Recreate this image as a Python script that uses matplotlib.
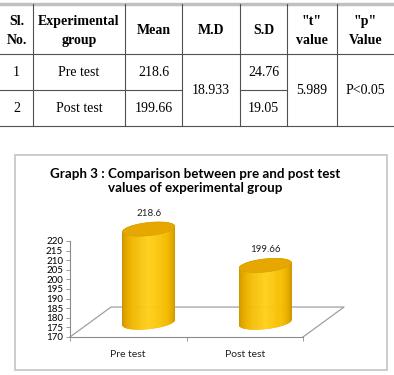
import numpy as np
import matplotlib.pyplot as plt
from matplotlib.patches import Polygon, Rectangle
from matplotlib.colors import LinearSegmentedColormap

# table data
headers = ['Sl.\nNo.', 'Experimental\ngroup', 'Mean', 'M.D', 'S.D', '"t"\nvalue', '"p"\nValue']
sl_no = ['1', '2']
groups = ['Pre test', 'Post test']
means = [218.6, 199.66]
mean_diff = '18.933'
sd = ['24.76', '19.05']
t_value = '5.989'
p_value = 'P<0.05'

# chart data
categories = ['Pre test', 'Post test']
bar_values = [218.6, 199.66]
bar_labels = ['218.6', '199.66']
yticks = list(range(170, 221, 5))

W, H = 394, 375
fig = plt.figure(figsize=(W / 100, H / 100), dpi=100)

# overlay in pixel coords for the table and frame
bg = fig.add_axes([0, 0, 1, 1])
bg.set_xlim(0, W)
bg.set_ylim(H, 0)
bg.axis('off')

serif = 'Liberation Serif'
cols = [0, 33, 125, 182, 240, 287, 337, 394]
row_y = [4, 54, 90, 126]
line_c = '#505050'

bg.plot([0, W], [3.5, 3.5], color='#c0c0c0', lw=2.5)
for y in (54, 126):
    bg.plot([0, W], [y, y], color=line_c, lw=0.8)
# row split only for the non-merged columns
for a, b in [(0, 182), (240, 287)]:
    bg.plot([a, b], [90, 90], color=line_c, lw=0.8)
for x in cols[1:-1]:
    bg.plot([x, x], [4, 126], color=line_c, lw=0.8)

for i, h in enumerate(headers):
    cx = (cols[i] + cols[i + 1]) / 2
    bg.text(cx, 31, h, ha='center', va='center', fontfamily=serif,
            fontweight='bold', fontsize=10, linespacing=1.6)

for r in range(2):
    cy = (row_y[r + 1] + row_y[r + 2]) / 2
    cells = [sl_no[r], groups[r], '%g' % means[r], None, sd[r]]
    for i, c in enumerate(cells):
        if c is None:
            continue
        cx = (cols[i] + cols[i + 1]) / 2
        bg.text(cx, cy, c, ha='center', va='center', fontfamily=serif, fontsize=10)
merged = {3: mean_diff, 5: t_value, 6: p_value}
for i, c in merged.items():
    cx = (cols[i] + cols[i + 1]) / 2
    bg.text(cx, 90, c, ha='center', va='center', fontfamily=serif, fontsize=10)

# chart frame
bg.add_patch(Rectangle((15, 155), 372, 215, fill=False, ec='#c4c4c4', lw=1.2))

font = 'Lato'
bg.text(195, 181, 'Graph 3 : Comparison between pre and post test\nvalues of experimental group',
        ha='center', va='center', fontfamily=font, fontweight='bold',
        fontsize=9.6, linespacing=1.3)

# chart axes: front axis from px 70 to 303, y 170..220 from px 337 to 241
ax = fig.add_axes([70 / W, (H - 337) / H, 233 / W, 96 / H])
ax.set_xlim(-0.5, 1.5)
ax.set_ylim(170, 220)
ax.patch.set_alpha(0)
for s in ('top', 'right'):
    ax.spines[s].set_visible(False)
for s in ('left', 'bottom'):
    ax.spines[s].set_color('#8c8c8c')
    ax.spines[s].set_linewidth(0.8)
ax.set_yticks(yticks)
ax.set_yticklabels([str(v) for v in yticks], fontfamily=font, fontsize=7)
ax.set_xticks([-0.5, 0.5, 1.5])
ax.set_xticklabels([])
ax.tick_params(axis='y', length=3, width=0.6, color='#8c8c8c', pad=2)
ax.tick_params(axis='x', length=3, width=0.6, color='#8c8c8c', direction='out')
for i, c in enumerate(categories):
    ax.text(i, 163, c, ha='center', va='top', fontfamily=font, fontsize=7.5,
            color='#222222', clip_on=False)

# floor depth
ddx, ddy = 0.352, 15.6
floor = [(-0.5, 170), (-0.5 + ddx, 170 + ddy), (1.5 + ddx, 170 + ddy), (1.5, 170)]
ax.plot(*zip(*floor), color='#a0a0a0', lw=0.9, clip_on=False, zorder=1)

# cylinders
rx, ry, k = 0.223, 3.4, 1.4
hx, hy = ddx / 2, 7.6
cmap = LinearSegmentedColormap.from_list(
    'gold', ['#c99000', '#eeb400', '#ffd01a', '#f4bc00', '#d39800'])
nstrip = 80
for i, v in enumerate(bar_values):
    cx = i + hx
    yb = 170 + hy
    yt = v + hy
    # vertical strips: each from the bottom front edge up to the top back edge
    edges = np.linspace(np.pi, 0, nstrip + 1)
    for j in range(nstrip):
        ts = np.linspace(edges[j], edges[j + 1], 4)
        xs = cx + rx * np.cos(ts)
        lo = yb - ry * np.sin(ts) + k * np.cos(ts)
        hi = yt + ry * np.sin(ts) + k * np.cos(ts)
        pts = np.vstack([np.column_stack([xs, lo]), np.column_stack([xs[::-1], hi[::-1]])])
        col = cmap(j / (nstrip - 1))
        ax.add_patch(Polygon(pts, closed=True, fc=col, ec=col, lw=0.4,
                             clip_on=False, zorder=3))
    tt = np.linspace(0, 2 * np.pi, 120)
    cap = np.column_stack([cx + rx * np.cos(tt), yt + ry * np.sin(tt) + k * np.cos(tt)])
    ax.add_patch(Polygon(cap, closed=True, fc='#e6a800', ec='#d8a000', lw=0.5,
                         zorder=4, clip_on=False))
    ax.text(cx, yt + ry + k + 1.2, bar_labels[i], ha='center', va='bottom',
            fontfamily=font, fontsize=7, color='#222222', clip_on=False)

fig.savefig('out.png', dpi=100)
